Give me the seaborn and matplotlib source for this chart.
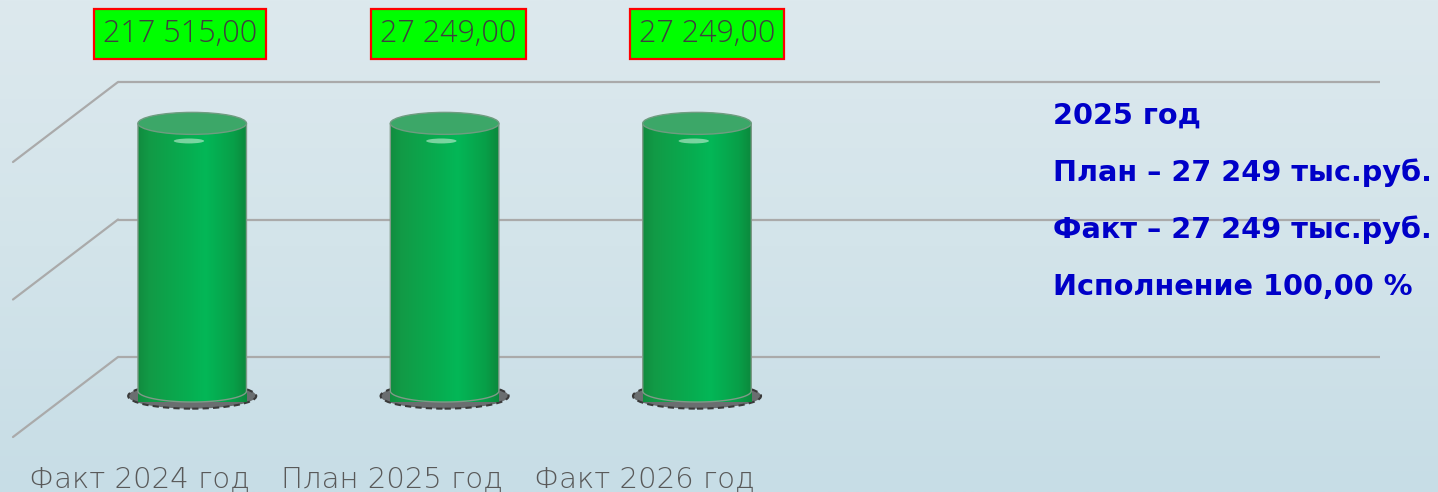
import numpy as np
import matplotlib
matplotlib.use("Agg")
import matplotlib.pyplot as plt
import seaborn as sns
import pandas as pd
from matplotlib.patches import Ellipse, PathPatch
from matplotlib.path import Path
from matplotlib.transforms import ScaledTranslation, blended_transform_factory
from matplotlib.colors import LinearSegmentedColormap

# ---------------- data ----------------
categories = ["Факт 2024 год", "План 2025 год", "Факт 2026 год"]
bar_values = [27249, 27249, 27249]
value_labels = ["217 515,00", "27 249,00", "27 249,00"]
info_lines = ["2025 год", "План – 27 249 тыс.руб.", "Факт – 27 249 тыс.руб.", "Исполнение 100,00 %"]
grid_values = [0, 14000, 28000]

# ---------------- figure ----------------
W, H = 1438, 492
DPI = 100
sns.set_style("white")
fig = plt.figure(figsize=(W / DPI, H / DPI), dpi=DPI)

# background gradient
bg = fig.add_axes([0, 0, 1, 1], zorder=-10)
grad = np.linspace(0, 1, 256)[:, None]
bg_cmap = LinearSegmentedColormap.from_list("bg", ["#dde9ee", "#d3e4ea", "#c7dde6"])
bg.imshow(np.repeat(grad, 2, axis=1), cmap=bg_cmap, aspect="auto", extent=[0, 1, 0, 1], origin="upper")
bg.set_axis_off()

# main axes (plane of the bars)
ax_left, ax_right = 66, 1328
ax_bottom_img, ax_top_img = 391, 116
ax = fig.add_axes([ax_left / W, (H - ax_bottom_img) / H,
                   (ax_right - ax_left) / W, (ax_bottom_img - ax_top_img) / H])
ax.patch.set_alpha(0)

df = pd.DataFrame({"cat": categories, "val": bar_values})
sns.barplot(data=df, x="cat", y="val", color="#06b050", saturation=1, width=0.43, ax=ax, zorder=3)
XMIN, XMAX, YMAX = -0.5, 4.5, grid_values[-1]
ax.set_xlim(XMIN, XMAX)
ax.set_ylim(0, YMAX)

pxx = (XMAX - XMIN) / (ax_right - ax_left)
pxy = YMAX / (ax_bottom_img - ax_top_img)

# 3D-like walls: back gridlines and side diagonals
back_dx, back_dy = 52 * pxx, 34 * pxy
front_dx, front_dy = -53 * pxx, -46 * pxy
for v in grid_values:
    ax.plot([XMIN + back_dx, XMAX + back_dx], [v + back_dy] * 2, color="#aaaaaa", lw=1.6,
            clip_on=False, zorder=2, solid_capstyle="butt")
    ax.plot([XMIN + back_dx, XMIN + front_dx], [v + back_dy, v + front_dy], color="#aaaaaa", lw=1.6,
            clip_on=False, zorder=2)

# cylinder styling on top of the seaborn bars
body_cmap = LinearSegmentedColormap.from_list(
    "body", [(0, "#118c3f"), (0.1, "#129a46"), (0.45, "#07ad50"), (0.62, "#03b757"),
             (0.88, "#089f48"), (1, "#0c883c")])
eb = 11 * pxy  # ellipse half height (data units)
for p in ax.patches[:len(categories)]:
    x0, w, h = p.get_x(), p.get_width(), p.get_height()
    cx = x0 + w / 2
    # shadow
    ax.add_patch(Ellipse((cx, -5 * pxy), w * 1.18, 2 * eb * 1.15, fc="#6a6e70", ec="#3a3a3a",
                         lw=1.5, ls=(0, (3, 2)), zorder=2.5, clip_on=False))
    # body clip path: rectangle with rounded (elliptic) bottom
    t = np.linspace(np.pi, 2 * np.pi, 60)
    verts = [(x0, h)] + [(cx + w / 2 * np.cos(a), eb * np.sin(a)) for a in t] + [(x0 + w, h), (x0, h)]
    codes = [Path.MOVETO] + [Path.LINETO] * (len(verts) - 2) + [Path.CLOSEPOLY]
    path = Path(verts, codes)
    clip = PathPatch(path, transform=ax.transData, fc="none", ec="none")
    img = ax.imshow(np.linspace(0, 1, 256)[None, :], cmap=body_cmap, aspect="auto",
                    extent=(x0, x0 + w, -eb, h), zorder=4, clip_on=False)
    img.set_clip_path(clip)
    ax.add_patch(PathPatch(path, fc="none", ec="#7f9a88", lw=1.0, zorder=4.5, clip_on=False))
    # top cap
    ax.add_patch(Ellipse((cx, h), w, 2 * eb, fc="#3ca768", ec="#6f9c80", lw=1.0, zorder=5, clip_on=False))
    ax.add_patch(Ellipse((cx - w * 0.03, h - 1.6 * eb), w * 0.28, eb * 0.45, fc="#d8f5e2", ec="none",
                         alpha=0.55, zorder=5.5, clip_on=False))
    p.set_visible(False)

ax.set_xlim(XMIN, XMAX)
ax.set_ylim(0, YMAX)

# value labels in green boxes
label_dx = [-12, 4, 10]
fig_trans = blended_transform_factory(ax.transData, fig.transFigure)
for p, lab, dx in zip(ax.patches[:len(categories)], value_labels, label_dx):
    cx = p.get_x() + p.get_width() / 2 + dx * pxx
    ax.text(cx, 1 - 34 / H, lab, transform=fig_trans, ha="center", va="center",
            fontsize=22, color="#3f3f3f", family="Open Sans", fontweight="light",
            bbox=dict(boxstyle="square,pad=0.3", fc="#00ff00", ec="#ff0000", lw=1.6), zorder=10)

# category labels on the front edge
ax.set_xticks(range(len(categories)))
ax.set_xticklabels(categories, fontsize=21, color="#595959", family="DejaVu Sans", fontweight="light")
ax.tick_params(axis="x", length=0, pad=54)
off = ScaledTranslation(-53 / DPI, 0, fig.dpi_scale_trans)
for lbl in ax.get_xticklabels():
    lbl.set_transform(lbl.get_transform() + off)
ax.set_yticks([])
ax.set_xlabel("")
ax.set_ylabel("")
for s in ax.spines.values():
    s.set_visible(False)

# info block on the right
for i, line in enumerate(info_lines):
    fig.text(1053 / W, 1 - (116 + i * 57) / H, line, ha="left", va="center", fontsize=20.7,
             fontweight="bold", color="#0000c8", family="DejaVu Sans", zorder=1)

fig.savefig("out.png", dpi=DPI)
